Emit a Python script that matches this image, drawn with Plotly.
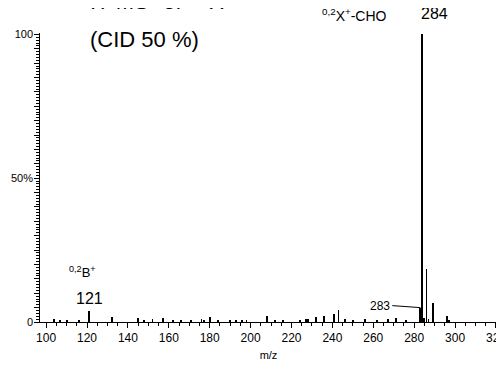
import plotly.graph_objects as go

mz = [104, 107, 110, 116, 121, 132, 145, 148, 152, 157, 162, 166, 171, 176, 177, 180, 184, 190,
      193, 196, 198, 208, 212, 216, 224, 227, 228, 232, 236, 241, 243, 246, 250, 256, 262,
      267, 271, 276, 283, 284, 285, 286, 287, 289, 296, 297]
intensity = [1.2, 0.5, 0.7, 0.5, 3.8, 1.7, 1.3, 0.5, 1.0, 1.5, 0.5, 0.6, 0.8, 1.0, 0.8, 1.8, 0.5, 0.4,
             0.5, 0.6, 0.5, 2.2, 0.6, 0.7, 0.5, 1.1, 0.9, 1.7, 2.1, 2.8, 4.2, 1.0, 0.4, 1.0, 0.4,
             1.0, 1.4, 0.5, 5.0, 100, 1.5, 18.5, 1.0, 6.6, 2.0, 0.8]

ylabel_vals = [0, 50, 100]
ylabel_text = ["0", "50%", "100"]

FONT = "Liberation Sans, Arial, Helvetica, sans-serif"

fig = go.Figure()
fig.add_trace(go.Bar(x=mz, y=intensity, width=0.45, marker=dict(color="black", line=dict(width=0)),
                     showlegend=False, hoverinfo="x+y"))
# invisible helper trace to activate the labelled y axis
fig.add_trace(go.Scatter(x=[mz[0]], y=[0], yaxis="y2", mode="markers",
                         marker=dict(opacity=0), showlegend=False, hoverinfo="skip"))

fig.update_layout(
    width=496, height=357,
    margin=dict(l=32, r=7, t=25, b=43, autoexpand=False),
    paper_bgcolor="white", plot_bgcolor="white",
    font=dict(family=FONT, color="black"),
    bargap=0,
    xaxis=dict(
        range=[97, 320.5], showgrid=False, zeroline=False, automargin=False,
        showline=True, linecolor="black", linewidth=1,
        tickmode="linear", tick0=0, dtick=20, ticks="outside", ticklen=5, tickcolor="black",
        ticklabeloverflow="allow",
        tickfont=dict(size=12, family=FONT),
        minor=dict(tickmode="linear", tick0=0, dtick=5, ticks="outside", ticklen=3, tickcolor="black"),
        title=dict(text="m/z", font=dict(size=11, family=FONT), standoff=6),
    ),
    yaxis=dict(
        range=[0, 100.5], showgrid=False, zeroline=False, automargin=False,
        showline=True, linecolor="black", linewidth=1,
        tickmode="linear", tick0=0, dtick=5, ticks="outside", ticklen=5, tickcolor="black",
        showticklabels=False,
        minor=dict(tickmode="linear", tick0=0, dtick=1, ticks="outside", ticklen=3, tickcolor="black"),
    ),
    yaxis2=dict(overlaying="y", side="left", range=[0, 100.5], showgrid=False, zeroline=False,
                showline=False, tickmode="array", tickvals=ylabel_vals, ticktext=ylabel_text,
                ticks="", ticklabelstandoff=6, automargin=False,
                tickfont=dict(size=11, family=FONT)),
)

fig.add_annotation(text="IT-MS<sup>3</sup> of <sup>0,2</sup>X<sup>+</sup>", xref="paper", yref="paper",
                   x=0.105, y=1.06, xanchor="left", yanchor="bottom", showarrow=False,
                   font=dict(size=22, family=FONT))
fig.add_annotation(text="(CID 50 %)", xref="paper", yref="paper",
                   x=0.105, y=0.976, xanchor="left", yanchor="middle", showarrow=False,
                   font=dict(size=22, family=FONT))
fig.add_annotation(text="<sup>0,2</sup>X<sup>+</sup>-CHO", xref="paper", yref="paper",
                   x=0.689, y=1.062, showarrow=False, xanchor="center", yanchor="middle",
                   font=dict(size=14, family=FONT))
fig.add_annotation(text="284", xref="paper", yref="paper",
                   x=0.864, y=1.069, showarrow=False, xanchor="center", yanchor="middle",
                   font=dict(size=16, family=FONT))
fig.add_annotation(text="<sup>0,2</sup>B<sup>+</sup>", x=118, y=17.5, xref="x", yref="y",
                   showarrow=False, xanchor="center", yanchor="middle", font=dict(size=13, family=FONT))
fig.add_annotation(text="121", x=121, y=8.2, xref="x", yref="y",
                   showarrow=False, xanchor="center", yanchor="middle", font=dict(size=16, family=FONT))
fig.add_annotation(text="283", x=283, y=5, xref="x", yref="y", ax=-28, ay=-2,
                   showarrow=True, arrowhead=0, arrowwidth=1, arrowcolor="black",
                   xanchor="right", font=dict(size=12, family=FONT))

fig.write_html("out.html")
